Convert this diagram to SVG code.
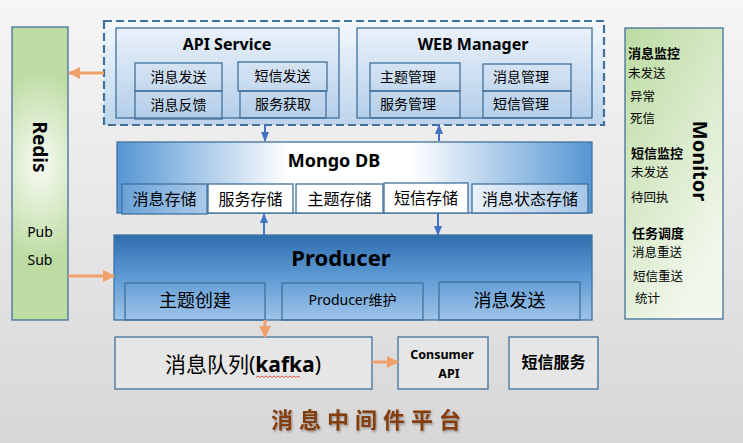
<svg xmlns="http://www.w3.org/2000/svg" width="743" height="443" viewBox="0 0 743 443">
<defs>
<linearGradient id="bg" x1="0" y1="0" x2="0" y2="1"><stop offset="0" stop-color="#f6f6f6"/><stop offset="1" stop-color="#d7d7d7"/></linearGradient>
<radialGradient id="redisG" cx="0.5" cy="0.47" r="0.6" gradientTransform="translate(0.5 0.47) scale(1.8 0.55) translate(-0.5 -0.47)"><stop offset="0" stop-color="#f7fbf3"/><stop offset="1" stop-color="#bddba2"/></radialGradient>
<linearGradient id="monG" x1="0" y1="0" x2="0.6" y2="1"><stop offset="0" stop-color="#bcdba2"/><stop offset="1" stop-color="#f3f8ee"/></linearGradient>
<linearGradient id="dashG" x1="0" y1="0" x2="0" y2="1"><stop offset="0" stop-color="#f4f8fd"/><stop offset="1" stop-color="#bcd4ec"/></linearGradient>
<linearGradient id="svcG" x1="0" y1="0" x2="0" y2="1"><stop offset="0" stop-color="#eaf1fa"/><stop offset="1" stop-color="#b4cee9"/></linearGradient>
<linearGradient id="mongoG" x1="0" y1="0" x2="1" y2="0"><stop offset="0" stop-color="#5596d3"/><stop offset="0.36" stop-color="#ffffff"/><stop offset="0.62" stop-color="#ffffff"/><stop offset="1" stop-color="#5596d3"/></linearGradient>
<linearGradient id="msgStoreG" x1="0" y1="0" x2="1" y2="0"><stop offset="0" stop-color="#6aa3d9"/><stop offset="1" stop-color="#abcaea"/></linearGradient>
<linearGradient id="stateStoreG" x1="0" y1="0" x2="1" y2="0"><stop offset="0" stop-color="#eaf2fb"/><stop offset="1" stop-color="#a6c6e8"/></linearGradient>
<linearGradient id="prodG" x1="0" y1="0" x2="0" y2="1"><stop offset="0" stop-color="#2f6dae"/><stop offset="0.5" stop-color="#5f9bd5"/><stop offset="1" stop-color="#9fc4e8"/></linearGradient>
<marker id="bArrow" markerUnits="userSpaceOnUse" markerWidth="10" markerHeight="10" viewBox="0 0 10 10" refX="9" refY="5" orient="auto"><path d="M0,1 L10,5 L0,9 z" fill="#4472c4"/></marker>
<marker id="oArrow" markerUnits="userSpaceOnUse" markerWidth="12" markerHeight="12" viewBox="0 0 12 12" refX="11" refY="6" orient="auto"><path d="M0,0 L12,6 L0,12 z" fill="#f0a06a"/></marker>
<filter id="shadow" x="-10%" y="-30%" width="120%" height="160%"><feDropShadow dx="1" dy="1.5" stdDeviation="0.8" flood-color="#000" flood-opacity="0.35"/></filter>
</defs>
<style>
text{font-family:"Noto Sans","Noto Sans CJK SC",sans-serif;fill:#000}
.box{stroke:#41719c;stroke-width:1.3}
.sub{fill:none;stroke:#41719c;stroke-width:1.3}
.t14{font-size:14px;text-anchor:middle}
.t16{font-size:16px;text-anchor:middle}
.t18{font-size:18px;text-anchor:middle}
.title{font-weight:bold;text-anchor:middle}
.mon{font-size:12.5px}
.monb{font-size:13px;font-weight:bold}
.blue{stroke:#4472c4;stroke-width:2;fill:none;marker-end:url(#bArrow)}
.orange{stroke:#f0a06a;stroke-width:3;fill:none;marker-end:url(#oArrow)}
</style>
<rect width="743" height="443" fill="url(#bg)"/>

<g id="redis">
<rect class="box" x="12" y="27" width="56" height="293" fill="url(#redisG)"/>
<text transform="translate(40,147) rotate(90)" text-anchor="middle" dy="0.35em" font-size="19" font-weight="bold">Redis</text>
<text x="40" y="237" text-anchor="middle" font-size="14">Pub</text>
<text x="40" y="265" text-anchor="middle" font-size="14">Sub</text>
</g>

<g id="monitor">
<rect class="box" x="625" y="28" width="98" height="291" fill="url(#monG)"/>
<text transform="translate(700,161) rotate(90)" text-anchor="middle" dy="0.35em" font-size="20" font-weight="bold">Monitor</text>
<text class="monb" x="628" y="58">消息监控</text>
<text class="mon" x="628" y="78">未发送</text>
<text class="mon" x="630" y="101">异常</text>
<text class="mon" x="630" y="123">死信</text>
<text class="monb" x="631" y="158">短信监控</text>
<text class="mon" x="631" y="177">未发送</text>
<text class="mon" x="631" y="202">待回执</text>
<text class="monb" x="632" y="238">任务调度</text>
<text class="mon" x="632" y="257">消息重送</text>
<text class="mon" x="633" y="281">短信重送</text>
<text class="mon" x="635" y="303">统计</text>
</g>

<g id="frontend">
<rect x="104" y="21" width="500" height="104" fill="url(#dashG)" stroke="#41719c" stroke-width="2.2" stroke-dasharray="8,4"/>
</g>

<g id="api-service">
<rect class="box" x="116" y="28" width="223" height="90" fill="url(#svcG)"/>
<text class="title" x="227" y="50" font-size="16">API Service</text>
<rect class="sub" x="135" y="63" width="87" height="28"/>
<text class="t14" x="178.5" y="82">消息发送</text>
<rect class="sub" x="135" y="91" width="87" height="28"/>
<text class="t14" x="178.5" y="110">消息反馈</text>
<rect class="sub" x="238" y="62" width="89" height="29"/>
<text class="t14" x="282.5" y="81">短信发送</text>
<rect class="sub" x="240" y="91" width="86" height="27"/>
<text class="t14" x="283" y="109">服务获取</text>
</g>

<g id="web-manager">
<rect class="box" x="357" y="28" width="235" height="90" fill="url(#svcG)"/>
<text class="title" x="473" y="50" font-size="16">WEB Manager</text>
<rect class="sub" x="370" y="63" width="90" height="28"/>
<text class="t14" x="408" y="82">主题管理</text>
<rect class="sub" x="370" y="91" width="90" height="27"/>
<text class="t14" x="408" y="109">服务管理</text>
<rect class="sub" x="483" y="64" width="88" height="27"/>
<text class="t14" x="521" y="82">消息管理</text>
<rect class="sub" x="483" y="91" width="88" height="27"/>
<text class="t14" x="521" y="109">短信管理</text>
</g>

<g id="mongodb">
<rect class="box" x="117" y="142" width="475" height="71" fill="url(#mongoG)"/>
<text class="title" x="334" y="167" font-size="18">Mongo DB</text>
<rect class="box" x="122" y="184" width="85" height="30" fill="url(#msgStoreG)"/>
<text class="t16" x="164.5" y="205">消息存储</text>
<rect class="box" x="208" y="184" width="85" height="29" fill="#ffffff"/>
<text class="t16" x="250.5" y="205">服务存储</text>
<rect class="box" x="296" y="184" width="87" height="29" fill="#ffffff"/>
<text class="t16" x="339.5" y="205">主题存储</text>
<rect class="box" x="384" y="183" width="84" height="30" fill="#ffffff"/>
<text class="t16" x="426" y="204">短信存储</text>
<rect class="box" x="472" y="184" width="116" height="29" fill="url(#stateStoreG)"/>
<text class="t16" x="530" y="205">消息状态存储</text>
</g>

<g id="producer">
<rect class="box" x="114" y="235" width="478" height="85" fill="url(#prodG)"/>
<text class="title" x="341" y="266" font-size="22">Producer</text>
<rect class="sub" x="125" y="283" width="140" height="37"/>
<text class="t18" x="195" y="307">主题创建</text>
<rect class="sub" x="282" y="283" width="141" height="37"/>
<text x="352.5" y="305" text-anchor="middle" font-size="14">Producer维护</text>
<rect class="sub" x="439" y="282" width="141" height="38"/>
<text class="t18" x="509.5" y="307">消息发送</text>
</g>

<g id="kafka">
<rect class="box" x="115" y="337" width="257" height="52" fill="#e6e6e6"/>
<text x="243" y="372" text-anchor="middle" font-size="21">消息队列(<tspan font-weight="bold">kafka</tspan>)</text>
<path d="M256,377.5 l2,-1.5 l2,1.5 l2,-1.5 l2,1.5 l2,-1.5 l2,1.5 l2,-1.5 l2,1.5 l2,-1.5 l2,1.5 l2,-1.5 l2,1.5 l2,-1.5 l2,1.5 l2,-1.5 l2,1.5 l2,-1.5 l2,1.5 l2,-1.5 l2,1.5 l2,-1.5 l2,1.5" fill="none" stroke="#e0443a" stroke-width="0.9"/>
</g>

<g id="consumer-api">
<rect class="box" x="398" y="337" width="90" height="52" fill="#e6e6e6"/>
<text x="442" y="359" text-anchor="middle" font-size="12.5" font-weight="bold">Consumer</text>
<text x="449" y="378" text-anchor="middle" font-size="12.5" font-weight="bold">API</text>
</g>

<g id="sms-service">
<rect class="box" x="509" y="337" width="89" height="52" fill="#e6e6e6"/>
<text x="553.5" y="368" text-anchor="middle" font-size="16" font-weight="bold">短信服务</text>
</g>

<g id="connectors">
<line class="blue" x1="265" y1="125" x2="265" y2="141"/>
<line class="blue" x1="439" y1="141" x2="439" y2="125"/>
<line class="blue" x1="264" y1="235" x2="264" y2="214"/>
<line class="blue" x1="438" y1="214" x2="438" y2="235"/>
<line class="orange" x1="104" y1="73" x2="69" y2="73"/>
<line class="orange" x1="68" y1="276" x2="114" y2="276"/>
<line class="orange" x1="265" y1="320" x2="265" y2="337"/>
<line class="orange" x1="372" y1="362" x2="398" y2="362"/>
</g>

<g id="caption">
<text x="369" y="428" text-anchor="middle" font-size="22" font-weight="bold" letter-spacing="6" style="fill:#843c0c" filter="url(#shadow)">消息中间件平台</text>
</g>
</svg>
